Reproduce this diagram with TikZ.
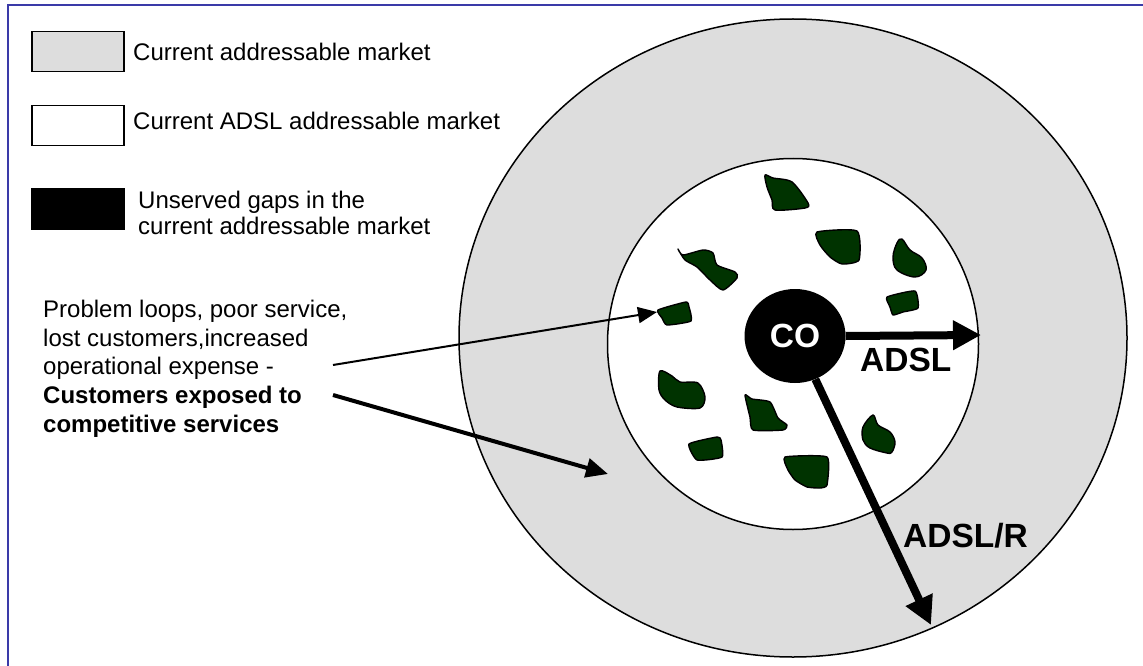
\documentclass[tikz,border=0pt]{standalone}
\usepackage{fontspec}
\setmainfont{Liberation Sans}
\usetikzlibrary{arrows.meta,shapes.geometric}
\definecolor{ringgray}{HTML}{DDDDDD}
\definecolor{gapgreen}{HTML}{003300}
\definecolor{frameblue}{HTML}{3A3AA8}
\begin{document}
\begin{tikzpicture}[x=1pt,y=-1pt,
  legbox/.style={draw=black, line width=1.5pt, minimum width=92pt, minimum height=40pt, inner sep=0pt, anchor=north west},
  legtext/.style={anchor=base west, inner sep=0pt, font=\fontsize{24}{29}\selectfont},
  bodytext/.style={anchor=base west, inner sep=0pt, font=\fontsize{24}{29}\selectfont},
  boldtext/.style={anchor=base west, inner sep=0pt, font=\fontsize{24}{29}\selectfont\bfseries},
  biglabel/.style={anchor=base west, inner sep=0pt, font=\fontsize{33.5}{40}\selectfont\bfseries},
  gap/.style={fill=gapgreen, draw=black, line width=1.4pt, line join=round},
  bigarrow/.style={line width=8pt, -{Triangle[length=28pt,width=28pt]}},
  thinarrow/.style={line width=2pt, -{Triangle[length=19pt,width=16pt]}},
  medarrow/.style={line width=4pt, -{Triangle[length=22pt,width=19pt]}}
]
\useasboundingbox (0,0) rectangle (1143,666);
\fill[white] (0,0) rectangle (1143,666);

% frame
\draw[frameblue, line width=2pt] (8,667) -- (8,5) -- (1144,5);

% rings
\node[ellipse, draw=black, fill=ringgray, line width=1.5pt, minimum width=668pt, minimum height=638pt, inner sep=0pt] (outer) at (793,338) {};
\node[circle, draw=black, fill=white, line width=1.5pt, minimum size=371pt, inner sep=0pt] (inner) at (793,344) {};

% gaps
\draw[gap] plot[smooth cycle, tension=0.45] coordinates {(765,175) (773,178) (792,182) (808,203) (805,208) (775,210) (772,200) (767,187)};
\draw[gap] plot[smooth cycle, tension=0.35] coordinates {(817,232) (857,231) (859,260) (842,264) (830,257) (820,245)};
\draw[gap] plot[smooth cycle, tension=0.6] coordinates {(902,239) (910,250) (922,258) (926,270) (915,277) (897,270) (893,257) (897,243)};
\draw[gap] plot[smooth cycle, tension=0.4] coordinates {(678,249) (683,255) (703,250) (713,253) (717,265) (735,272) (737,278) (723,290) (710,280) (697,267) (685,260)};
\draw[gap] plot[smooth cycle, tension=0.3] coordinates {(658,310) (686,302) (689,307) (691,321) (667,325) (662,318)};
\draw[gap] plot[smooth cycle, tension=0.3] coordinates {(887,297) (915,291) (918,308) (903,312) (893,315) (890,307)};
\draw[gap] plot[smooth cycle, tension=0.5] coordinates {(660,371) (672,376) (680,382) (698,383) (705,397) (700,408) (677,407) (665,400) (659,390)};
\draw[gap] plot[smooth cycle, tension=0.35] coordinates {(745,395) (752,399) (770,402) (778,418) (787,425) (783,430) (753,430) (750,417)};
\draw[gap] plot[smooth cycle, tension=0.3] coordinates {(689,444) (717,437) (721,440) (722,457) (697,460)};
\draw[gap] plot[smooth cycle, tension=0.3] coordinates {(785,457) (827,457) (827,485) (820,488) (807,487) (795,480) (788,470)};
\draw[gap] plot[smooth cycle, tension=0.55] coordinates {(873,415) (878,425) (890,432) (895,442) (892,452) (887,453) (870,448) (863,440) (863,427)};

% CO and its arrows
\coordinate (adsltip) at (981,335);
\coordinate (adslrtip) at (931,625);
\node[ellipse, fill=black, minimum width=101pt, minimum height=94pt, inner sep=0pt,
      font=\fontsize{33.5}{40}\selectfont\bfseries, text=white] (co) at (795,336) {CO};
\draw[bigarrow] (co.east) -- (adsltip);
\draw[bigarrow] (co) -- (adslrtip);
\node[biglabel] (adsl) at (860,371) {ADSL};
\node[biglabel] (adslr) at (903,547) {ADSL/R};

% legend
\node[legbox, fill=ringgray] (lb1) at (31,31) {};
\node[legbox, fill=white] (lb2) at (31,105) {};
\node[legbox, fill=black] (lb3) at (31,188) {};
\node[legtext] (lt1) at (133,61) {Current addressable market};
\node[legtext] (lt2) at (133,130) {Current ADSL addressable market};
\node[legtext] (lt3a) at (138,208) {Unserved gaps in the};
\node[legtext] (lt3b) at (138,234) {current addressable market};

% explanation text
\node[bodytext] (p1) at (43,317) {Problem loops, poor service,};
\node[bodytext] (p2) at (43,346) {lost customers,increased};
\node[bodytext] (p3) at (43,374) {operational expense -};
\node[boldtext] (p4) at (43,403) {Customers exposed to};
\node[boldtext] (p5) at (43,432) {competitive services};

\coordinate (s1) at (333,365);
\coordinate (s2) at (333,395);
\coordinate (t1) at (657,312);
\coordinate (t2) at (608,474);
\draw[thinarrow] (s1) -- (t1);
\draw[medarrow] (s2) -- (t2);
\end{tikzpicture}
\end{document}
